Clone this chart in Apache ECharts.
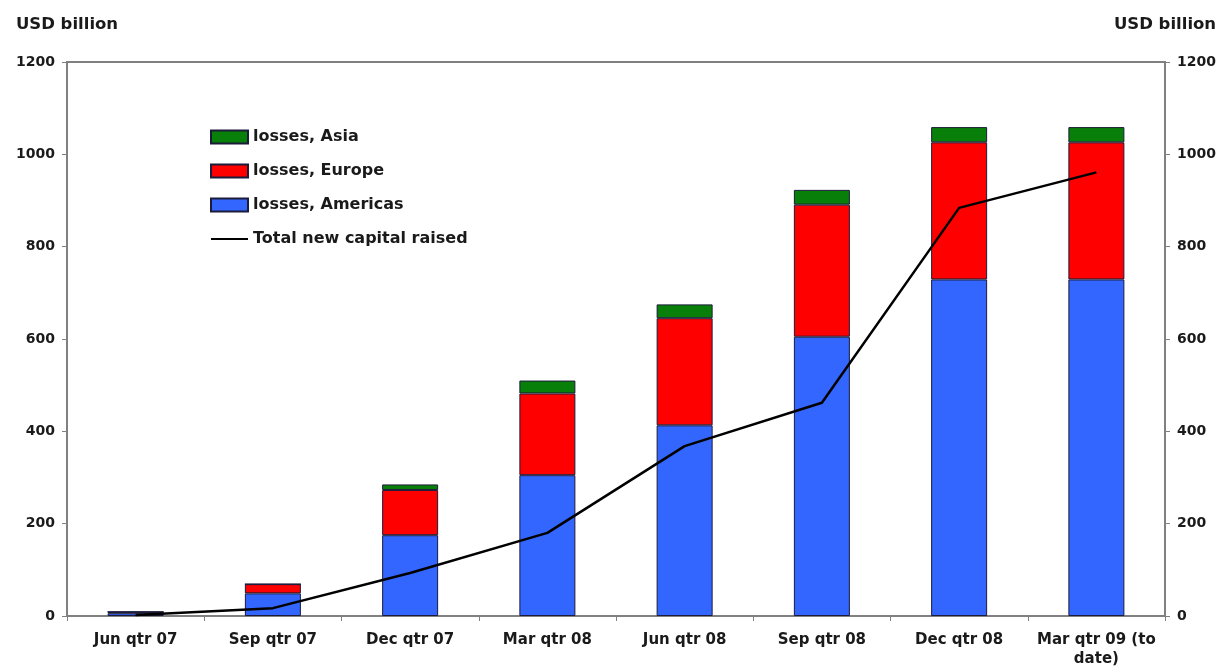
<!DOCTYPE html>
<html><head><meta charset="utf-8">
<script src="https://cdn.jsdelivr.net/npm/echarts@6/dist/echarts.min.js"></script>
<style>html,body{margin:0;padding:0;background:#fff}#c{width:1221px;height:671px}</style>
</head><body><div id="c"></div>
<script>
const categories = ['Jun qtr 07','Sep qtr 07','Dec qtr 07','Mar qtr 08','Jun qtr 08','Sep qtr 08','Dec qtr 08','Mar qtr 09 (to\ndate)'];
const lossesAmericas = [6, 49, 175, 305, 413, 605, 729, 729];
const lossesEurope = [3, 20, 98, 177, 232, 286, 297, 297];
const lossesAsia = [0, 0, 12, 28, 30, 32, 33, 33];
const totalCapital = [2, 17, 93, 180, 368, 462, 884, 961];
const yTicks = [0, 200, 400, 600, 800, 1000, 1200];

const FONT = 'DejaVu Sans';
const chart = echarts.init(document.getElementById('c'));
const barStyle = (c) => ({color: c, borderColor: '#1b1b3a', borderWidth: 1});
const yAxisBase = (pos) => ({
  type: 'value', position: pos, min: yTicks[0], max: yTicks[yTicks.length-1], interval: 200,
  name: 'USD billion', nameLocation: 'end', nameGap: 37,
  nameTextStyle: {fontFamily: FONT, fontWeight: 'bold', fontSize: 16.5, color: '#1a1a1a', align: 'center', verticalAlign: 'middle'},
  axisLine: {show: true, lineStyle: {color: '#808080', width: 2}},
  axisTick: {show: true, length: 5, lineStyle: {color: '#808080'}},
  axisLabel: {fontFamily: FONT, fontWeight: 'bold', fontSize: 14, color: '#1a1a1a', margin: 12, formatter: (v) => String(v)},
  splitLine: {show: false}
});
chart.setOption({
  animation: false,
  backgroundColor: '#fff',
  grid: {left: 67, right: 56, top: 62, bottom: 55, show: true, borderColor: '#808080', borderWidth: 2, backgroundColor: 'transparent'},
  legend: {
    orient: 'vertical', left: 205, top: 123, itemWidth: 37, itemHeight: 13, itemGap: 16,
    data: [
      {name: 'losses, Asia', icon: 'rect'},
      {name: 'losses, Europe', icon: 'rect'},
      {name: 'losses, Americas', icon: 'rect'},
      {name: 'Total new capital raised', itemStyle: {color: 'rgba(0,0,0,0)', borderWidth: 0, opacity: 0}}
    ],
    textStyle: {fontFamily: FONT, fontWeight: 'bold', fontSize: 16, color: '#1a1a1a', lineHeight: 18}
  },
  xAxis: {
    type: 'category', data: categories, boundaryGap: true,
    axisLine: {lineStyle: {color: '#808080', width: 2}},
    axisTick: {show: true, length: 5, alignWithLabel: false, lineStyle: {color: '#808080'}},
    axisLabel: {fontFamily: FONT, fontWeight: 'bold', fontSize: 15, color: '#1a1a1a', margin: 15, lineHeight: 19, interval: 0}
  },
  yAxis: [yAxisBase('left'), yAxisBase('right')],
  series: [
    {name: 'losses, Americas', type: 'bar', stack: 'l', data: lossesAmericas, barWidth: 56, itemStyle: barStyle('#3366ff')},
    {name: 'losses, Europe', type: 'bar', stack: 'l', data: lossesEurope, barWidth: 56, itemStyle: barStyle('#ff0000')},
    {name: 'losses, Asia', type: 'bar', stack: 'l', data: lossesAsia, barWidth: 56, itemStyle: barStyle('#087f08')},
    {name: 'Total new capital raised', type: 'line', data: totalCapital, symbol: 'none', z: 5,
     lineStyle: {color: '#000', width: 2.5}, itemStyle: {color: '#000'}}
  ]
});
</script></body></html>
